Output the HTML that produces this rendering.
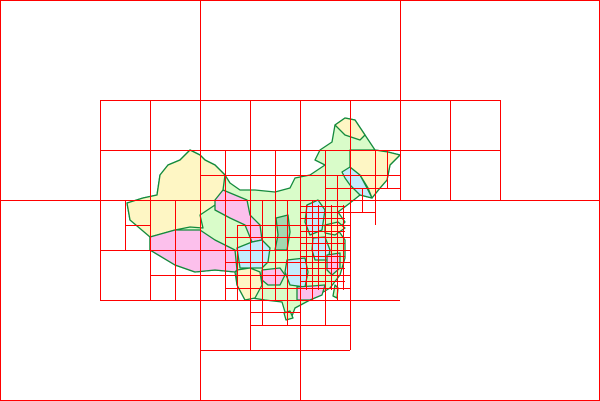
<!DOCTYPE html>
<html><head><meta charset="utf-8"><style>body{margin:0;background:#fff}svg{display:block}</style></head>
<body>
<svg width="600" height="401" viewBox="0 0 600 401" xmlns="http://www.w3.org/2000/svg">
<g stroke="#138a3c" stroke-width="1.3" stroke-linejoin="round">
<polygon fill="#d9fcc9" points="127,203 130,220 150,232 150,250 175,265 195,272 215,270 235,272 237,285 245,300 252,298 265,300 282,302 285,312 292,316 295,308 310,300 330,288 340,275 345,258 345,240 338,230 345,222 338,212 350,203 360,195 372,198 380,188 387,180 390,165 400,155 388,152 375,150 365,135 355,120 345,118 335,125 332,142 320,150 315,160 325,165 310,175 295,178 290,188 275,192 255,190 240,190 230,183 225,175 215,165 205,160 200,155 190,150 180,160 168,165 160,175 157,195 143,198"/>
<polygon fill="#fef6c4" points="127,203 130,220 150,237 175,230 190,227 203,228 200,215 215,205 223,190 225,175 215,165 205,160 200,155 190,150 180,160 168,165 160,175 157,195 143,198"/>
<polygon fill="#fcc0ec" points="150,237 175,230 200,230 215,240 235,250 237,270 235,272 215,270 195,272 175,265 150,250"/>
<polygon fill="#fcc0ec" points="223,190 235,195 247,200 250,215 260,225 262,240 252,242 245,225 230,218 215,210 215,200"/>
<polygon fill="#c4ecfc" points="237,248 252,242 262,240 270,248 268,262 262,268 250,268 240,268"/>
<polygon fill="#fef6c4" points="237,270 250,268 260,272 262,285 255,298 245,300 237,285"/>
<polygon fill="#fcc0ec" points="262,270 280,268 285,275 280,285 268,285 262,280"/>
<polygon fill="#c4ecfc" points="287,260 305,258 308,272 305,287 290,285 285,272"/>
<polygon fill="#fcc0ec" points="297,287 312,286 325,285 322,295 310,300 297,300"/>
<polygon fill="#a3d8b0" points="276,218 288,215 290,232 287,250 275,250 278,235"/>
<polygon fill="#c4ecfc" points="307,205 318,200 325,210 322,230 310,235 305,222"/>
<polygon fill="#c4ecfc" points="313,238 325,237 330,250 328,260 315,260 312,250"/>
<polygon fill="#fcc0ec" points="327,255 340,253 340,268 332,275 327,270"/>
<polygon fill="#fef6c4" points="325,225 338,222 345,228 335,235 325,233"/>
<polygon fill="#c4ecfc" points="342,172 350,167 360,175 368,190 372,198 360,195 350,185 345,178"/>
<polygon fill="#fef6c4" points="350,150 375,150 388,152 400,155 390,165 387,180 380,188 372,198 368,188 360,175 350,167"/>
<polygon fill="#fef6c4" points="335,125 345,118 355,120 365,135 360,140 345,135"/>
<polygon fill="#d9fcc9" points="335,285 338,288 337,298 333,296"/>
<polygon fill="#d9fcc9" points="284,313 290,311 293,318 286,320"/>
</g>
<g stroke="#f00" stroke-width="1" fill="none" shape-rendering="crispEdges">
<rect x="0.5" y="0.5" width="599" height="400"/>
<path d="M0 200.5H600 M200.5 0V401 M400.5 0V200
M100 100.5H500 M100 150.5H500 M200 175.5H400 M325 188.5H400
M300 212.5H375 M125 225.5H150 M237 225.5H350 M225 237.5H350 M100 250.5H350 M225 262.5H350 M150 275.5H350 M225 288.5H350 M100 300.5H400 M250 312.5H300 M250 325.5H350 M200 350.5H350
M300 206.5H345 M300 218.5H345 M300 231.5H345 M300 243.5H345 M300 256.5H345 M300 268.5H345 M300 281.5H345
M100.5 100V300 M500.5 100V200 M450.5 100V200 M125.5 200V250 M150.5 100V300 M175.5 200V300 M225.5 150V300 M237.5 225V300 M250.5 100V350 M262.5 200V325 M275.5 150V300 M287.5 200V325 M300.5 100V400 M312.5 200V300 M325.5 150V325 M337.5 175V300 M350.5 100V350 M375.5 150V225
M306.5 205V290 M318.5 205V290 M331.5 205V290 M343.5 205V290 M362.5 188V212 M387.5 150V188"/>
</g>
</svg>
</body></html>
